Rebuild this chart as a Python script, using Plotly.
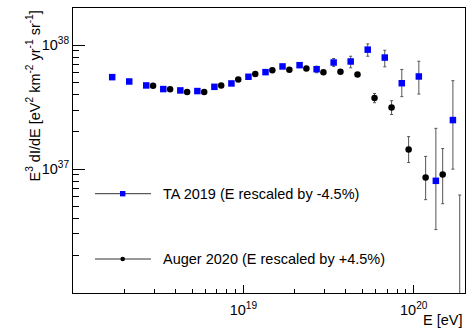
import numpy as np
import plotly.graph_objects as go

# ---------------- data ----------------
ta_logE = [18.23, 18.33, 18.43, 18.53, 18.63, 18.73, 18.83, 18.93, 19.03, 19.13,
           19.23, 19.33, 19.43, 19.53, 19.63, 19.73, 19.83, 19.93, 20.03, 20.13, 20.23]
ta_flux = [5.53e37, 5.10e37, 4.74e37, 4.43e37, 4.32e37, 4.27e37, 4.62e37, 4.92e37, 5.57e37, 6.07e37,
           6.75e37, 6.91e37, 6.41e37, 7.26e37, 7.40e37, 9.22e37, 7.96e37, 4.94e37, 5.60e37, 8.05e36, 2.49e37]
ta_err_up = [0.05e37, 0.05e37, 0.05e37, 0.05e37, 0.06e37, 0.07e37, 0.08e37, 0.10e37, 0.12e37, 0.15e37,
             0.20e37, 0.28e37, 0.37e37, 0.56e37, 0.76e37, 1.04e37, 1.16e37, 1.44e37, 1.83e37, 1.33e37, 2.69e37]
ta_err_dn = [0.05e37, 0.05e37, 0.05e37, 0.05e37, 0.06e37, 0.07e37, 0.08e37, 0.10e37, 0.12e37, 0.15e37,
             0.20e37, 0.28e37, 0.41e37, 0.51e37, 0.82e37, 1.06e37, 1.26e37, 1.09e37, 1.56e37, 0.48e37, 1.49e37]

auger_logE = [18.47, 18.57, 18.67, 18.77, 18.87, 18.97, 19.07, 19.17, 19.27, 19.37,
              19.47, 19.57, 19.67, 19.77, 19.87, 19.97, 20.07, 20.17, 20.27]
auger_flux = [4.71e37, 4.41e37, 4.19e37, 4.19e37, 4.74e37, 5.30e37, 5.85e37, 6.30e37, 6.34e37, 6.50e37,
              6.07e37, 6.11e37, 5.81e37, 3.75e37, 3.14e37, 1.44e37, 8.57e36, 9.06e36, 1.0e35]
auger_err_up = [0.02e37, 0.02e37, 0.02e37, 0.02e37, 0.03e37, 0.03e37, 0.04e37, 0.05e37, 0.06e37, 0.08e37,
                0.10e37, 0.13e37, 0.18e37, 0.33e37, 0.43e37, 0.39e37, 4.1e36, 5.6e36, 6.08e36]
auger_err_dn = [0.02e37, 0.02e37, 0.02e37, 0.02e37, 0.03e37, 0.03e37, 0.04e37, 0.05e37, 0.06e37, 0.08e37,
                0.10e37, 0.13e37, 0.18e37, 0.31e37, 0.38e37, 0.31e37, 2.9e36, 3.8e36, 0.0]

legend_labels = ["TA 2019 (E rescaled by -4.5%)", "Auger 2020 (E rescaled by +4.5%)"]
x_tick_vals = [1e19, 1e20]
x_tick_text = ["10<sup>19</sup>", "10<sup>20</sup>"]
y_tick_vals = [1e37, 1e38]
y_tick_text = ["10<sup>37</sup>", "10<sup>38</sup>"]

# ---------------- figure ----------------
FONT = "Liberation Sans, Arial, sans-serif"
ERRC = "#555555"

ta_E = [10.0 ** v for v in ta_logE]
auger_E = [10.0 ** v for v in auger_logE]

fig = go.Figure()
fig.add_trace(go.Scatter(
    x=ta_E, y=ta_flux, mode="markers",
    marker=dict(symbol="square", size=6.5, color="#0000ff", line=dict(width=0)),
    error_y=dict(type="data", symmetric=False, array=ta_err_up, arrayminus=ta_err_dn,
                 color=ERRC, thickness=1, width=1.5),
    showlegend=False))
fig.add_trace(go.Scatter(
    x=auger_E, y=auger_flux, mode="markers",
    marker=dict(symbol="circle", size=6.5, color="black", line=dict(width=0)),
    error_y=dict(type="data", symmetric=False, array=auger_err_up, arrayminus=auger_err_dn,
                 color=ERRC, thickness=1, width=1.5),
    showlegend=False))

L, R, T, B = 73, 10, 8, 36
W, H = 475, 329
pw, ph = W - L - R, H - T - B

def px(xp):
    return (xp - L) / pw

def py(yp):
    return (H - B - yp) / ph

x_minor = [m * 10.0 ** d for d in (18, 19, 20) for m in range(2, 10) if m * 10.0 ** d <= 2.01e20]
y_minor = [m * 10.0 ** d for d in (36, 37, 38) for m in range(2, 10) if m * 10.0 ** d <= 2.01e38]

fig.update_layout(
    width=W, height=H,
    margin=dict(l=L, r=R, t=T, b=B),
    paper_bgcolor="white", plot_bgcolor="white",
    font=dict(family=FONT, size=14, color="black"),
    xaxis=dict(type="log", range=[18, np.log10(2e20)],
               showgrid=False, zeroline=False,
               showline=True, linecolor="black", linewidth=1, mirror=True,
               ticks="inside", ticklen=8, tickcolor="black",
               tickmode="array", tickvals=x_tick_vals, ticktext=x_tick_text,
               tickfont=dict(size=14.5), ticklabelstandoff=4,
               minor=dict(ticks="inside", ticklen=4, tickcolor="black",
                          tickmode="array", tickvals=x_minor, showgrid=False)),
    yaxis=dict(type="log", range=[36, np.log10(2e38)],
               showgrid=False, zeroline=False,
               showline=True, linecolor="black", linewidth=1, mirror=True,
               ticks="inside", ticklen=12, tickcolor="black",
               tickmode="array", tickvals=y_tick_vals, ticktext=y_tick_text,
               tickfont=dict(size=14.5),
               minor=dict(ticks="inside", ticklen=6, tickcolor="black",
                          tickmode="array", tickvals=y_minor, showgrid=False)),
)

annotations = [
    dict(text="E<sup>3</sup> dI/dE [eV<sup>2</sup> km<sup>-2</sup> yr<sup>-1</sup> sr<sup>-1</sup>]",
         xref="paper", yref="paper", x=px(33), y=py(9), xanchor="center", yanchor="top",
         textangle=-90, showarrow=False, font=dict(size=14.5)),
    dict(text="E [eV]", xref="paper", yref="paper", x=1.0, y=py(320),
         xanchor="right", yanchor="middle", showarrow=False, font=dict(size=14.5)),
]
shapes = []
leg_y = [193.7, 259]
for i, (lab, yy) in enumerate(zip(legend_labels, leg_y)):
    annotations.append(dict(text=lab, xref="paper", yref="paper", x=px(161), y=py(yy),
                            xanchor="left", yanchor="middle", showarrow=False,
                            font=dict(size=14.5)))
    shapes.append(dict(type="line", xref="paper", yref="paper", x0=px(95), x1=px(151),
                       y0=py(yy), y1=py(yy), line=dict(color="#333333", width=1)))
    if i == 0:
        shapes.append(dict(type="rect", xref="paper", yref="paper",
                           xsizemode="pixel", ysizemode="pixel",
                           xanchor=px(122.7), yanchor=py(yy),
                           x0=-2.7, x1=2.7, y0=-2.7, y1=2.7,
                           fillcolor="#0000ff", line=dict(width=0)))
    else:
        shapes.append(dict(type="circle", xref="paper", yref="paper",
                           xsizemode="pixel", ysizemode="pixel",
                           xanchor=px(122.7), yanchor=py(yy),
                           x0=-2.3, x1=2.3, y0=-2.3, y1=2.3,
                           fillcolor="black", line=dict(width=0)))

fig.update_layout(annotations=annotations, shapes=shapes)
fig.write_html("out.html")
